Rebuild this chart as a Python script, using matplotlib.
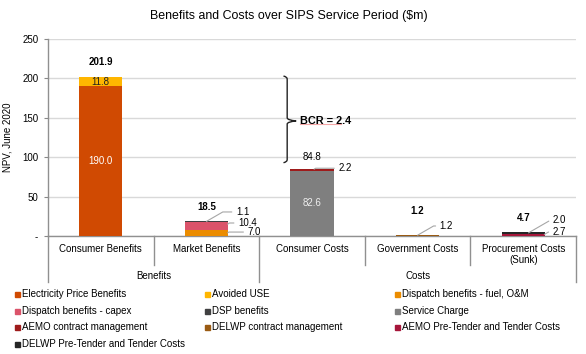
import matplotlib
matplotlib.use("Agg")
import matplotlib.pyplot as plt
from matplotlib.patches import Rectangle
from matplotlib.path import Path
from matplotlib.patches import PathPatch
import matplotlib.transforms as mtransforms

plt.rcParams['font.family'] = ['Liberation Sans', 'DejaVu Sans']

categories = ["Consumer Benefits", "Market Benefits", "Consumer Costs",
              "Government Costs", "Procurement Costs\n(Sunk)"]
groups = ["Benefits", "Costs"]
group_members = [[0, 1], [2, 3, 4]]

series_names = ["Electricity Price Benefits", "Avoided USE", "Dispatch benefits - fuel, O&M",
                "Dispatch benefits - capex", "DSP benefits", "Service Charge",
                "AEMO contract management", "DELWP contract management",
                "AEMO Pre-Tender and Tender Costs", "DELWP Pre-Tender and Tender Costs"]
series_colors = ["#D04A02", "#FFB600", "#EB8C00", "#DB536A", "#404041", "#7F7F7F",
                 "#9E1B1B", "#9A5B13", "#A6163A", "#262626"]
series_values = [
    [190.0, 0, 0, 0, 0],
    [11.8, 0, 0, 0, 0],
    [0, 7.0, 0, 0, 0],
    [0, 10.4, 0, 0, 0],
    [0, 1.1, 0, 0, 0],
    [0, 0, 82.6, 0, 0],
    [0, 0, 2.2, 0, 0],
    [0, 0, 0, 1.2, 0],
    [0, 0, 0, 0, 2.7],
    [0, 0, 0, 0, 2.0],
]
totals = [201.9, 18.5, 84.8, 1.2, 4.7]
bcr_text = "BCR = 2.4"
yticks = [0, 50, 100, 150, 200, 250]
ytick_labels = ["-", "50", "100", "150", "200", "250"]

fig = plt.figure(figsize=(5.86, 3.54), dpi=100)
ax = fig.add_axes([48/586, 1-236/354, 528/586, 197/354])

FS = 7.0
width = 0.41
bottoms = [0.0]*5
seg_info = []
for si, (name, col, vals) in enumerate(zip(series_names, series_colors, series_values)):
    ax.bar(range(5), vals, width=width, bottom=bottoms, color=col, zorder=3, linewidth=0)
    for ci, v in enumerate(vals):
        if v:
            seg_info.append((si, ci, bottoms[ci], v))
    bottoms = [b + v for b, v in zip(bottoms, vals)]

ax.set_xlim(-0.5, 4.5)
ax.set_ylim(0, 250)
ax.set_yticks(yticks)
ax.set_yticklabels(ytick_labels, fontsize=FS)
ax.set_xticks(range(5))
ax.set_xticklabels(categories, fontsize=FS, linespacing=1.05)
ax.tick_params(axis='x', length=0, pad=6)
ax.tick_params(axis='y', length=3, color='#888888', pad=4)
ax.grid(axis='y', color='#D9D9D9', linewidth=1, zorder=0)
for s in ['top', 'right']:
    ax.spines[s].set_visible(False)
for s in ['left', 'bottom']:
    ax.spines[s].set_color('#909090')
    ax.spines[s].set_linewidth(1)
ax.set_ylabel("NPV, June 2020", fontsize=FS, labelpad=7)

# separators
trans = mtransforms.blended_transform_factory(ax.transData, ax.transAxes)
for x in [0.5, 2.5, 3.5]:
    ax.plot([x, x], [0, -0.147], transform=trans, color='#909090', lw=1, clip_on=False)
for x in [-0.5, 1.5, 4.5]:
    ax.plot([x, x], [0, -0.234], transform=trans, color='#909090', lw=1, clip_on=False)
for g, mem in zip(groups, group_members):
    xc = (min(mem) + max(mem)) / 2
    ax.text(xc, -0.203, g, transform=trans, ha='center', va='center', fontsize=FS)

# totals
total_offsets_px = [15, 14, 12, 24, 14]
for ci, t in enumerate(totals):
    bold = ci != 2
    ax.annotate(f"{t:.1f}", (ci, bottoms[ci]), xytext=(0, total_offsets_px[ci] * 0.72),
                textcoords='offset points', ha='center', va='center', fontsize=FS,
                fontweight='bold' if bold else 'normal')

inside = {(0, 0): 'white', (1, 0): '#222222', (5, 2): '#EEEEEE'}
leader_pos = {(2, 1): (1.39, 5), (3, 1): (1.30, 16.5), (4, 1): (1.28, 30.5),
              (6, 2): (2.25, 86), (7, 3): (3.21, 12.7),
              (8, 4): (4.28, 5), (9, 4): (4.28, 20)}
leader_src = {(2, 1): (1.2, 4.0), (3, 1): (1.2, 15.0), (4, 1): (1.0, 18.5),
              (6, 2): (2.02, 84.8), (7, 3): (3.0, 1.0),
              (8, 4): (4.2, 2.0), (9, 4): (4.05, 4.0)}
for si, ci, b, v in seg_info:
    key = (si, ci)
    if key in inside:
        ax.text(ci, b + v/2, f"{v:.1f}", ha='center', va='center', fontsize=FS,
                color=inside[key], zorder=5)
    elif key in leader_pos:
        tx, ty = leader_pos[key]
        sx, sy = leader_src[key]
        ax.annotate(f"{v:.1f}", (sx, sy), xytext=(tx, ty), textcoords='data',
                    ha='left', va='center', fontsize=FS, zorder=6,
                    arrowprops=dict(arrowstyle='-', color='#A6A6A6', lw=0.8,
                                    shrinkA=1, shrinkB=0,
                                    connectionstyle='angle,angleA=0,angleB=30,rad=0'))

# brace
x0, x1, x2 = 1.73, 1.765, 1.85
top, mid, bot = 203, 146, 93
verts = [(x0, top), (x1, top - 1), (x1, top - 4), (x1, mid + 4), (x1, mid + 1), (x2, mid),
         (x1, mid - 1), (x1, mid - 4), (x1, bot + 4), (x1, bot + 1), (x0, bot)]
codes = [Path.MOVETO, Path.CURVE3, Path.CURVE3, Path.LINETO, Path.CURVE3, Path.CURVE3,
         Path.CURVE3, Path.CURVE3, Path.LINETO, Path.CURVE3, Path.CURVE3]
ax.add_patch(PathPatch(Path(verts, codes), fill=False, lw=1, color='#222222', zorder=6,
                       clip_on=False))
ax.text(1.89, mid, bcr_text, ha='left', va='center', fontsize=7.8, fontweight='bold', zorder=6)
ax.plot([1.89, 2.27], [mid - 4.5, mid - 4.5], color='#F4A6A6', lw=0.8, zorder=5)

fig.text(0.493, 1 - 16/354, "Benefits and Costs over SIPS Service Period ($m)",
         ha='center', va='center', fontsize=8.9)

# legend
col_x = [15, 205, 395]
row_y = [294, 311, 327, 344]
for i, (name, col) in enumerate(zip(series_names, series_colors)):
    r, c = divmod(i, 3)
    px, py = col_x[c], row_y[r]
    fig.patches.append(Rectangle((px/586, 1 - (py + 2.5)/354), 5/586, 5/354,
                                 transform=fig.transFigure, color=col, figure=fig))
    fig.text((px + 7)/586, 1 - py/354, name, ha='left', va='center', fontsize=FS)

fig.savefig("out.png", dpi=100)
